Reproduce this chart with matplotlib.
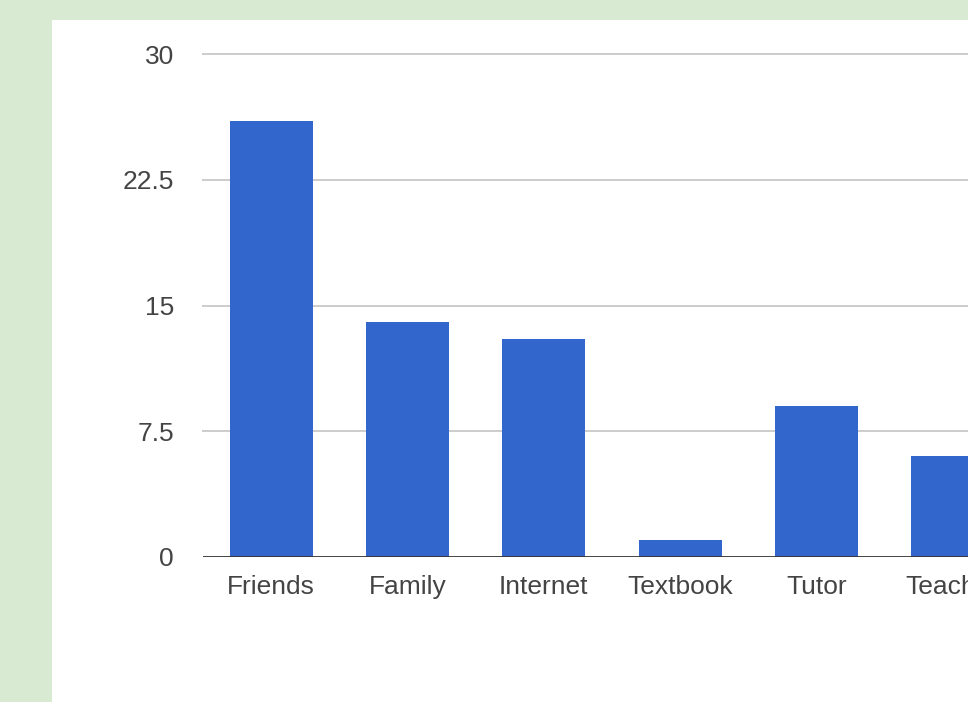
import matplotlib
matplotlib.use("Agg")
import matplotlib.pyplot as plt
from matplotlib.patches import Rectangle

# data
sources = ["Friends", "Family", "Internet", "Textbook", "Tutor", "Teacher"]
counts = [26, 14, 13, 1, 9, 6]
yticks = [0, 7.5, 15, 22.5, 30]
ytick_labels = ["0", "7.5", "15", "22.5", "30"]

W, H = 968, 702
plt.rcParams["font.family"] = ["Liberation Sans", "DejaVu Sans"]

fig = plt.figure(figsize=(W / 100, H / 100), dpi=100, facecolor="#d9ead3")
# white card behind the chart
fig.patches.append(Rectangle((52 / W, 0), 1, 1 - 20 / H, transform=fig.transFigure,
                             facecolor="white", edgecolor="none", zorder=-5))

# axes runs off the right edge, like the cropped screenshot
ax = fig.add_axes([203 / W, (H - 557) / H, 818 / W, 503 / H])
ax.set_facecolor("none")

x = list(range(len(sources)))
ax.bar(x, counts, width=0.61, color="#3366cc", zorder=2)

ax.set_xlim(-0.5, len(sources) - 0.5)
ax.set_ylim(0, 30)
ax.set_yticks(yticks)
ax.set_yticklabels(ytick_labels)
ax.set_xticks(x)
ax.set_xticklabels(sources)

for y in yticks[1:]:
    ax.axhline(y, color="#cccccc", lw=1.4, zorder=1, clip_on=False)
ax.axhline(0, color="#333333", lw=2, zorder=3)

for s in ax.spines.values():
    s.set_visible(False)
ax.tick_params(axis="both", length=0, labelsize=19, labelcolor="#444444")
ax.tick_params(axis="y", pad=21)
ax.tick_params(axis="x", pad=13)

fig.savefig("out.png", dpi=100, facecolor=fig.get_facecolor())
